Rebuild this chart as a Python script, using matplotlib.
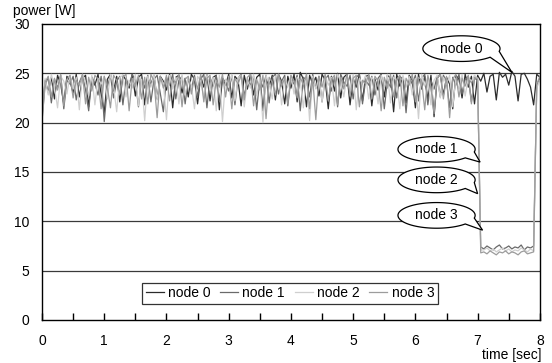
import numpy as np
import matplotlib
matplotlib.use("Agg")
import matplotlib.pyplot as plt
from matplotlib.patches import Polygon

plt.rcParams['font.family'] = ['Liberation Sans', 'DejaVu Sans']

time_sec = [round(i * 0.05, 2) for i in range(161)]

node0 = [
    20.8, 24.3, 23.1, 24.6, 22.4, 24.8, 23.9, 21.9, 24.7, 24.2,
    23.0, 24.9, 22.6, 24.5, 24.8, 21.6, 24.6, 23.8, 24.9, 22.9,
    21.0, 24.4, 24.9, 23.2, 24.7, 22.1, 24.8, 24.3, 23.5, 24.9,
    22.7, 24.6, 24.9, 21.8, 24.5, 23.9, 24.8, 22.4, 24.7, 24.2,
    23.3, 24.9, 21.5, 24.6, 24.8, 23.0, 24.5, 22.6, 24.9, 24.4,
    21.9, 24.7, 23.6, 24.9, 22.2, 24.6, 24.8, 21.3, 24.5, 23.8,
    24.9, 22.5, 24.7, 24.3, 21.7, 24.8, 23.4, 24.9, 22.8, 24.6,
    24.9, 21.2, 24.5, 23.7, 24.8, 22.3, 24.9, 24.2, 21.9, 24.7,
    23.5, 24.9, 22.1, 25.1, 24.4, 21.6, 24.8, 23.9, 24.6, 22.7,
    24.9, 24.3, 21.4, 24.7, 23.2, 25.0, 22.5, 24.6, 24.9, 21.8,
    24.5, 23.6, 24.9, 22.2, 24.7, 24.8, 21.7, 24.4, 23.3, 24.9,
    22.6, 24.8, 24.5, 21.1, 24.9, 23.7, 24.6, 22.0, 24.8, 24.3,
    21.5, 24.9, 23.4, 24.7, 22.3, 24.8, 20.6, 24.5, 24.9, 22.8,
    24.6, 23.9, 21.4, 24.8, 24.4, 22.5, 24.9, 23.6, 24.7, 21.9,
    24.8, 24.2, 25.0, 23.1, 24.7, 24.9, 22.3, 25.1, 24.6, 24.9,
    23.8, 25.2, 24.7, 22.2, 24.9, 25.0, 24.4, 23.6, 21.8, 24.9,
    24.6,
]

node1 = [
    20.2, 23.8, 24.6, 22.0, 24.4, 23.5, 24.8, 21.4, 24.3, 23.9,
    24.7, 22.3, 24.1, 24.8, 23.3, 21.2, 24.6, 24.0, 22.8, 24.7,
    20.1, 23.6, 24.8, 22.5, 24.2, 24.7, 21.8, 24.5, 23.7, 24.9,
    24.3, 21.6, 24.7, 23.5, 24.8, 22.1, 24.4, 24.8, 23.0, 21.1,
    24.6, 23.8, 24.9, 22.4, 24.3, 24.7, 21.9, 24.5, 23.4, 24.8,
    22.6, 24.4, 24.9, 21.5, 24.6, 23.7, 24.8, 22.2, 24.5, 24.1,
    23.2, 24.8, 21.8, 24.5, 24.9, 22.7, 24.3, 23.8, 24.7, 21.3,
    24.4, 23.6, 24.8, 22.0, 24.6, 24.9, 22.9, 24.2, 24.8, 21.7,
    24.5, 23.9, 24.8, 21.2, 24.6, 24.3, 22.6, 24.9, 23.5, 24.7,
    22.1, 24.4, 24.8, 23.2, 24.6, 21.6, 24.9, 24.1, 23.7, 24.8,
    22.4, 24.6, 24.9, 21.9, 24.3, 23.8, 24.7, 22.8, 24.5, 24.9,
    21.4, 24.2, 23.6, 24.8, 22.5, 24.7, 24.4, 21.0, 24.6, 23.9,
    24.8, 22.2, 24.5, 24.9, 21.8, 24.3, 23.4, 24.7, 22.6, 24.8,
    24.2, 21.5, 24.6, 23.8, 24.9, 22.9, 24.4, 24.7, 22.1, 24.5,
    24.3, 7.4, 7.2, 7.5, 7.3, 7.1, 7.4, 7.6, 7.2, 7.3,
    7.5, 7.2, 7.4, 7.3, 7.6, 7.1, 7.4, 7.3, 7.5, 23.8,
    24.5,
]

node2 = [
    19.9, 24.5, 22.8, 24.9, 23.6, 21.5, 24.7, 24.2, 22.9, 24.8,
    23.4, 24.6, 21.3, 24.9, 24.1, 22.7, 24.8, 21.8, 24.5, 23.9,
    24.7, 22.4, 24.9, 23.7, 21.1, 24.6, 24.8, 22.6, 24.3, 23.5,
    24.9, 21.7, 24.4, 20.2, 24.7, 23.6, 24.9, 22.3, 24.6, 24.0,
    20.3, 24.8, 23.4, 24.6, 21.9, 24.9, 22.8, 24.5, 23.8, 21.4,
    24.7, 24.2, 22.5, 24.9, 23.3, 24.6, 21.2, 24.8, 20.1, 24.4,
    23.7, 24.9, 22.2, 24.5, 24.8, 21.6, 24.3, 23.5, 24.9, 22.7,
    24.6, 20.0, 24.8, 23.9, 22.4, 24.7, 24.9, 21.8, 24.5, 23.6,
    24.8, 22.9, 24.6, 24.3, 21.5, 24.9, 20.2, 24.7, 23.4, 24.5,
    22.1, 24.8, 23.8, 24.6, 21.7, 24.9, 24.2, 22.6, 24.7, 23.3,
    24.9, 21.3, 24.5, 23.9, 24.8, 22.4, 24.6, 24.2, 21.9, 24.8,
    23.5, 24.9, 22.0, 24.6, 24.3, 21.4, 24.8, 23.6, 24.7, 22.8,
    24.5, 20.4, 24.9, 23.7, 24.6, 21.8, 24.3, 24.8, 22.5, 24.6,
    23.9, 24.8, 21.6, 24.5, 23.4, 24.9, 22.7, 24.6, 24.2, 24.8,
    24.5, 7.1, 7.1, 7.3, 7.0, 7.2, 6.9, 7.1, 7.3, 7.0,
    7.2, 6.9, 7.1, 7.0, 7.3, 7.1, 6.9, 7.2, 7.0, 23.5,
    24.3,
]

node3 = [
    20.5, 24.1, 24.7, 22.6, 24.5, 23.3, 24.9, 21.7, 24.4, 24.8,
    22.5, 24.3, 23.8, 24.9, 21.9, 24.6, 23.2, 24.8, 24.4, 21.4,
    24.7, 23.6, 21.5, 24.8, 24.3, 22.9, 24.6, 24.9, 21.2, 24.5,
    23.7, 24.8, 22.4, 24.6, 21.9, 24.9, 24.2, 20.5, 24.7, 23.5,
    24.8, 22.2, 24.5, 23.9, 24.9, 21.6, 24.4, 24.7, 22.9, 24.6,
    23.4, 24.9, 22.1, 24.5, 24.8, 21.8, 24.3, 23.6, 24.9, 22.6,
    24.7, 21.4, 24.5, 23.9, 24.8, 22.3, 24.6, 24.9, 21.7, 24.4,
    23.3, 24.8, 20.4, 24.6, 24.1, 22.8, 24.9, 23.7, 24.5, 21.9,
    24.8, 24.2, 22.5, 24.6, 23.8, 24.9, 21.4, 24.5, 20.3, 24.7,
    23.6, 24.9, 22.2, 24.4, 24.8, 21.8, 24.6, 23.4, 24.9, 22.7,
    24.5, 24.8, 21.6, 24.3, 23.9, 24.9, 22.4, 24.7, 24.2, 21.2,
    24.6, 23.5, 24.9, 22.6, 24.4, 24.8, 21.7, 24.5, 23.8, 24.9,
    22.1, 24.6, 24.3, 21.3, 24.8, 23.6, 20.9, 24.5, 24.9, 22.4,
    24.7, 20.5, 24.4, 24.9, 22.6, 24.5, 23.7, 24.8, 21.9, 24.6,
    24.4, 6.8, 6.9, 6.7, 7.0, 6.8, 6.6, 6.9, 6.8, 7.0,
    6.7, 6.9, 6.8, 6.6, 6.9, 7.0, 6.7, 6.8, 6.9, 23.9,
    24.7,
]

series_names = ["node 0", "node 1", "node 2", "node 3"]
series_values = [node0, node1, node2, node3]
series_colors = ["#2b2b2b", "#6a6a6a", "#cfcfcf", "#9c9c9c"]

x_ticks = [0, 1, 2, 3, 4, 5, 6, 7, 8]
y_ticks = [0, 5, 10, 15, 20, 25, 30]

# callouts: label, ellipse center (x, y), tip (x, y)
callout_labels = ["node 0", "node 1", "node 2", "node 3"]
callout_centers = [(6.74, 27.5), (6.34, 17.3), (6.34, 14.2), (6.34, 10.6)]
callout_tips = [(7.55, 25.1), (7.04, 16.0), (7.0, 12.8), (7.08, 9.1)]

fig = plt.figure(figsize=(5.52, 3.63), dpi=100)
ax = fig.add_axes([0.0761, 0.1185, 0.9019, 0.8155])

for yv in y_ticks[1:-1]:
    ax.axhline(yv, color="#3a3a3a", lw=0.9, zorder=1)

for name, vals, col in zip(series_names, series_values, series_colors):
    ax.plot(time_sec, vals, color=col, lw=0.9, label=name, zorder=2)

ax.set_xlim(0, 8)
ax.set_ylim(0, 30)
ax.set_xticks(x_ticks)
ax.set_xticks(np.arange(0, 8.01, 0.5), minor=True)
ax.set_yticks(y_ticks)
ax.tick_params(axis='x', which='both', direction='in', length=5, width=1,
               color='black', labelsize=10, pad=10)
ax.tick_params(axis='y', length=0, labelsize=10, pad=9)
for sp in ax.spines.values():
    sp.set_color('black')
    sp.set_linewidth(1.0)

# callout bubbles
ew, eh = 1.24, 2.6
for lab, (cx, cy), (tx, ty) in zip(callout_labels, callout_centers, callout_tips):
    th_a = np.deg2rad(-42)
    th_b = np.deg2rad(-12)
    thetas = np.linspace(th_b, th_a + 2 * np.pi, 200)
    pts = [(cx + ew / 2 * np.cos(t), cy + eh / 2 * np.sin(t)) for t in thetas]
    pts.append((tx, ty))
    poly = Polygon(pts, closed=True, facecolor='white', edgecolor='black',
                   lw=0.9, zorder=5)
    ax.add_patch(poly)
    ax.text(cx, cy, lab, ha='center', va='center', fontsize=10, zorder=6)

leg = ax.legend(loc='lower center', bbox_to_anchor=(0.498, 0.055), ncol=4,
                fontsize=10, frameon=True, fancybox=False, handlelength=1.3,
                handletextpad=0.3, columnspacing=0.7, borderpad=0.25,
                borderaxespad=0)
leg.get_frame().set_edgecolor('black')
leg.get_frame().set_linewidth(0.9)

fig.text(13 / 552, 1 - 15.5 / 363, "power [W]", fontsize=10, ha='left', va='baseline')
fig.text(541 / 552, 1 - 355.5 / 363, "time [sec]", fontsize=10, ha='right', va='center')

fig.savefig("out.png", dpi=100)
